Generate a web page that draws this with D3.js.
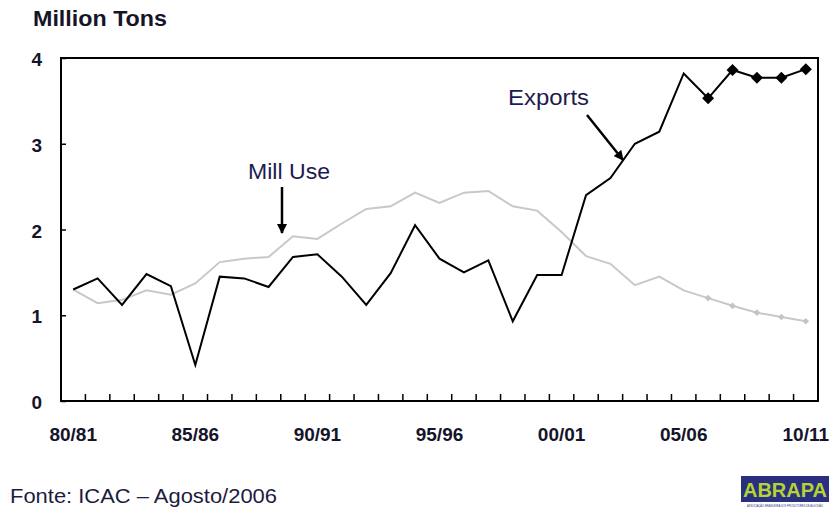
<!DOCTYPE html>
<html>
<head>
<meta charset="utf-8">
<script src="https://cdn.jsdelivr.net/npm/d3@7"></script>
<style>
  html, body { margin: 0; padding: 0; background: #fff; }
  svg { display: block; font-family: Arial, "Liberation Sans", sans-serif; }
</style>
</head>
<body>
<svg id="chart" width="833" height="512"></svg>
<script>
const categories = ["80/81","81/82","82/83","83/84","84/85","85/86","86/87","87/88","88/89","89/90",
  "90/91","91/92","92/93","93/94","94/95","95/96","96/97","97/98","98/99","99/00",
  "00/01","01/02","02/03","03/04","04/05","05/06","06/07","07/08","08/09","09/10","10/11"];
const exportsSeries = [1.30,1.43,1.12,1.48,1.34,0.42,1.45,1.43,1.33,1.68,1.71,1.45,1.12,1.49,2.05,1.66,1.50,1.64,0.93,1.47,
  1.47,2.40,2.60,3.00,3.14,3.82,3.53,3.86,3.77,3.77,3.87];
const millUseSeries = [1.30,1.14,1.18,1.29,1.24,1.37,1.62,1.66,1.68,1.92,1.89,2.07,2.24,2.27,2.43,2.31,2.43,2.45,2.27,2.22,
  1.97,1.69,1.60,1.35,1.45,1.29,1.20,1.11,1.03,0.98,0.93];
const projectedCats = ["06/07","07/08","08/09","09/10","10/11"];
const xTickLabels = ["80/81","85/86","90/91","95/96","00/01","05/06","10/11"];
const yTicks = [0,1,2,3,4];

const svg = d3.select("#chart");
const L = 61, R = 818, T = 58, B = 401;

const x = d3.scaleBand().domain(categories).range([L, R]).padding(0);
const y = d3.scaleLinear().domain([0, 4]).range([B, T]);
const cx = c => x(c) + x.bandwidth() / 2;

// title
svg.append("text").attr("x", 33).attr("y", 26)
  .attr("font-size", 22).attr("font-weight", "bold").attr("fill", "#15152a")
  .attr("textLength", 134).attr("lengthAdjust", "spacingAndGlyphs")
  .text("Million Tons");

// x tick marks at band boundaries (inside)
svg.append("g").selectAll("line").data(categories.slice(1)).join("line")
  .attr("x1", d => x(d)).attr("x2", d => x(d))
  .attr("y1", B).attr("y2", B - 7)
  .attr("stroke", "#000").attr("stroke-width", 1.5);

// y axis
const yAxis = svg.append("g").attr("transform", `translate(${L},0)`)
  .call(d3.axisLeft(y).tickValues(yTicks).tickFormat(d3.format("d")).tickSize(-5).tickPadding(19));
yAxis.select(".domain").remove();
yAxis.selectAll(".tick line").attr("stroke", "#000").attr("stroke-width", 1.5);
yAxis.selectAll(".tick text").attr("font-size", 19).attr("font-weight", "bold")
  .attr("fill", "#15152a").attr("dy", "0.4em")
  .attr("font-family", "Arial, 'Liberation Sans', sans-serif");

// x axis labels
const xAxis = svg.append("g").attr("transform", `translate(0,${B})`)
  .call(d3.axisBottom(x).tickValues(xTickLabels).tickSize(0).tickPadding(27));
xAxis.select(".domain").remove();
xAxis.selectAll(".tick text").attr("font-size", 19).attr("font-weight", "bold")
  .attr("fill", "#15152a").attr("font-family", "Arial, 'Liberation Sans', sans-serif");

// frame
svg.append("rect").attr("x", L).attr("y", T).attr("width", R - L).attr("height", B - T)
  .attr("fill", "none").attr("stroke", "#000").attr("stroke-width", 2);

const line = d3.line().x(d => cx(d.c)).y(d => y(d.v));
const millData = categories.map((c, i) => ({c, v: millUseSeries[i]}));
const expData = categories.map((c, i) => ({c, v: exportsSeries[i]}));

svg.append("path").datum(millData).attr("d", line)
  .attr("fill", "none").attr("stroke", "#c8c8c8").attr("stroke-width", 2);
svg.append("path").datum(expData).attr("d", line)
  .attr("fill", "none").attr("stroke", "#000").attr("stroke-width", 2);

svg.append("g").selectAll("path").data(millData.filter(d => projectedCats.includes(d.c))).join("path")
  .attr("transform", d => `translate(${cx(d.c)},${y(d.v)}) rotate(45)`)
  .attr("d", d3.symbol().type(d3.symbolSquare).size(22)).attr("fill", "#c4c4c4");
svg.append("g").selectAll("path").data(expData.filter(d => projectedCats.includes(d.c))).join("path")
  .attr("transform", d => `translate(${cx(d.c)},${y(d.v)}) rotate(45)`)
  .attr("d", d3.symbol().type(d3.symbolSquare).size(72)).attr("fill", "#000");

// annotations
svg.append("defs").append("marker").attr("id", "ah")
  .attr("viewBox", "0 0 10 10").attr("refX", 9).attr("refY", 5)
  .attr("markerWidth", 4).attr("markerHeight", 4).attr("orient", "auto")
  .attr("markerUnits", "strokeWidth")
  .append("path").attr("d", "M0,0 L10,5 L0,10 z").attr("fill", "#000");

svg.append("text").attr("x", 248).attr("y", 179).attr("font-size", 22).attr("fill", "#1c1c50")
  .attr("textLength", 82).attr("lengthAdjust", "spacingAndGlyphs").text("Mill Use");
svg.append("line").attr("x1", 282).attr("y1", 187).attr("x2", 282).attr("y2", 233)
  .attr("stroke", "#000").attr("stroke-width", 2.5).attr("marker-end", "url(#ah)");

svg.append("text").attr("x", 508).attr("y", 105).attr("font-size", 22).attr("fill", "#1c1c50")
  .attr("textLength", 81).attr("lengthAdjust", "spacingAndGlyphs").text("Exports");
svg.append("line").attr("x1", 587).attr("y1", 115).attr("x2", 623).attr("y2", 160)
  .attr("stroke", "#000").attr("stroke-width", 2.5).attr("marker-end", "url(#ah)");

// footer
svg.append("text").attr("x", 10).attr("y", 503).attr("font-size", 20).attr("fill", "#1c1c40")
  .attr("textLength", 267).attr("lengthAdjust", "spacingAndGlyphs").text("Fonte: ICAC – Agosto/2006");

// logo
const logo = svg.append("g");
logo.append("rect").attr("x", 741).attr("y", 476).attr("width", 88).attr("height", 26).attr("fill", "#2a2f80");
logo.append("text").attr("x", 785).attr("y", 497).attr("text-anchor", "middle")
  .attr("font-size", 20).attr("font-weight", "bold").attr("fill", "#b5d334")
  .text("ABRAPA");
logo.append("text").attr("x", 785).attr("y", 507).attr("text-anchor", "middle")
  .attr("font-size", 2.6).attr("fill", "#2a2f80")
  .text("ASSOCIAÇÃO BRASILEIRA DOS PRODUTORES DE ALGODÃO");
</script>
</body>
</html>
